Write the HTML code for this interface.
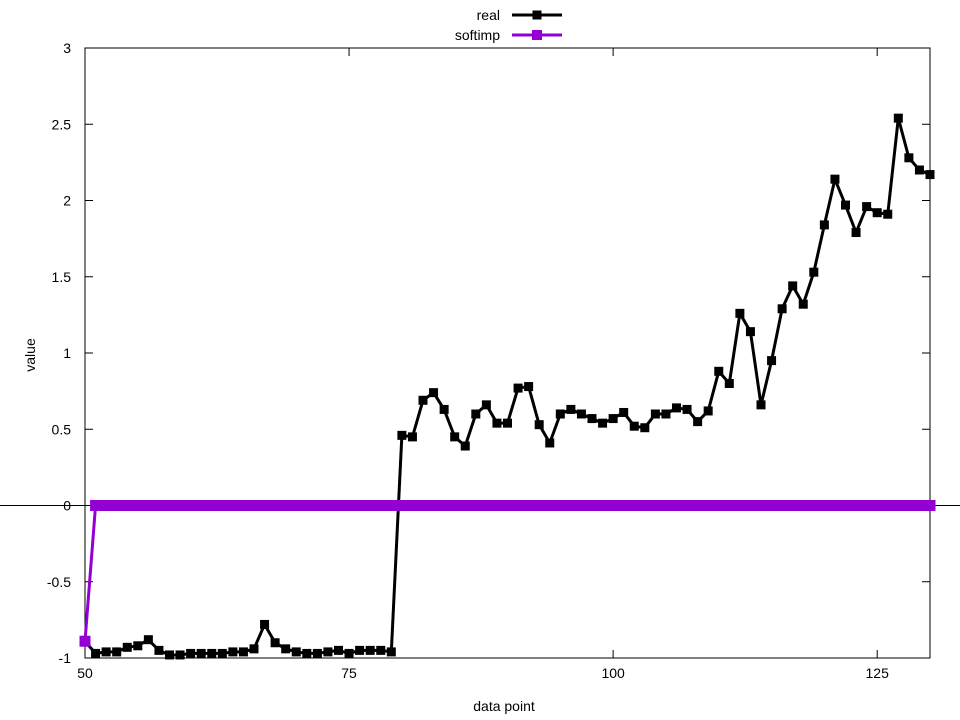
<!DOCTYPE html>
<html><head><meta charset="utf-8"><style>
body{margin:0;background:#fff;}
svg{display:block;font-family:"Liberation Sans",sans-serif;}
</style></head><body>
<svg id="chart" width="960" height="720"></svg>
<script>
const xValues=[];for(let i=50;i<=130;i++)xValues.push(i);
const realValues=[-0.89,-0.97,-0.96,-0.96,-0.93,-0.92,-0.88,-0.95,-0.98,-0.98,-0.97,-0.97,-0.97,-0.97,-0.96,-0.96,-0.94,-0.78,-0.9,-0.94,-0.96,-0.97,-0.97,-0.96,-0.95,-0.97,-0.95,-0.95,-0.95,-0.96,
0.46,0.45,0.69,0.74,0.63,0.45,0.39,0.6,0.66,0.54,0.54,0.77,0.78,0.53,0.41,0.6,0.63,0.6,0.57,0.54,0.57,0.61,0.52,0.51,0.6,0.6,0.64,0.63,0.55,0.62,
0.88,0.8,1.26,1.14,0.66,0.95,1.29,1.44,1.32,1.53,1.84,2.14,1.97,1.79,1.96,1.92,1.91,2.54,2.28,2.2,2.17];
const softimpValues=[-0.89];for(let i=51;i<=130;i++)softimpValues.push(0);
const xTicks=[50,75,100,125];
const yTicks=[-1,-0.5,0,0.5,1,1.5,2,2.5,3];
const NS="http://www.w3.org/2000/svg";
const svg=document.getElementById('chart');
const L=85,R=930,T=48,B=658;
const sx=v=>L+(v-50)/80*(R-L);
const sy=v=>B-(v+1)/4*(B-T);
function el(tag,attrs,parent){const e=document.createElementNS(NS,tag);for(const k in attrs)e.setAttribute(k,attrs[k]);(parent||svg).appendChild(e);return e;}
const z=el('line',{x1:0,x2:960,y1:sy(0),y2:sy(0),stroke:'#000','stroke-width':1});


yTicks.forEach(t=>{
 const y=sy(t);
 el('line',{x1:L,x2:L+8,y1:y,y2:y,stroke:'#000'});
 el('line',{x1:R,x2:R-8,y1:y,y2:y,stroke:'#000'});
 const tx=el('text',{x:L-14,y:y+5,'text-anchor':'end','font-size':14});
 tx.textContent=String(t);
 
 
});
xTicks.forEach(t=>{
 const x=sx(t);
 el('line',{x1:x,x2:x,y1:B,y2:B-8,stroke:'#000'});
 el('line',{x1:x,x2:x,y1:T,y2:T+8,stroke:'#000'});
 const tx=el('text',{x:x,y:B+20,'text-anchor':'middle','font-size':14});
 tx.textContent=String(t);
 
 
});
const frame=el('rect',{x:L,y:T,width:R-L,height:B-T,fill:'none',stroke:'#000','stroke-width':1});


const xt=el('text',{x:504,y:711,'text-anchor':'middle','font-size':14});xt.textContent='data point';


const yt=el('text',{x:35,y:355,'text-anchor':'middle','font-size':14,transform:'rotate(-90 35 355)'});yt.textContent='value';


function series(vals,color,ms,name){
 const pts=vals.map((v,i)=>sx(xValues[i])+','+sy(v)).join(' ');
 const pl=el('polyline',{points:pts,fill:'none',stroke:color,'stroke-width':3,'stroke-linejoin':'miter'});
 
 
 vals.forEach((v,i)=>{
  const r=el('rect',{x:sx(xValues[i])-ms/2,y:sy(v)-ms/2,width:ms,height:ms,fill:color});
  
  
 });
}
series(realValues,'#000',9,'real');
series(softimpValues,'#9400d3',11,'softimp');
function legend(label,y,color,ms,name){
 const g=el('g',{});
 
 
 const t=el('text',{x:500,y:y+5,'text-anchor':'end','font-size':14},g);t.textContent=label;
 el('line',{x1:512,x2:562,y1:y,y2:y,stroke:color,'stroke-width':3},g);
 el('rect',{x:537-ms/2,y:y-ms/2,width:ms,height:ms,fill:color},g);
}
legend('real',15,'#000',9,'real');
legend('softimp',35,'#9400d3',10,'softimp');
</script>
</body></html>
